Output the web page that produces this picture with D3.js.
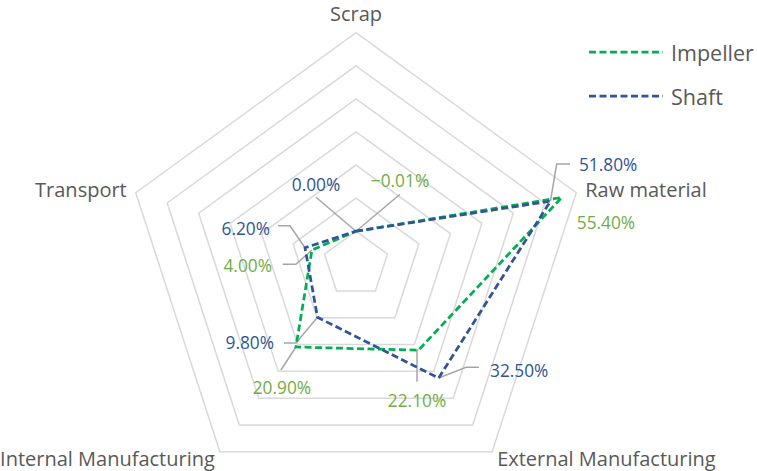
<!DOCTYPE html>
<html>
<head>
<meta charset="utf-8">
<script src="https://cdn.jsdelivr.net/npm/d3@7"></script>
<style>
  body { margin: 0; background: #fff; }
  text { font-family: "Open Sans", sans-serif; }
</style>
</head>
<body>
<div id="chart"></div>
<script>
// Radar data
const axes = ["Scrap", "Raw material", "External Manufacturing", "Internal Manufacturing", "Transport"];
const impeller = [-0.01, 55.4, 22.1, 20.9, 4.0];
const shaft = [0.0, 51.8, 32.5, 9.8, 6.2];
const ringValues = [0, 10, 20, 30, 40, 50, 60];
const seriesNames = ["Impeller", "Shaft"];

const width = 757, height = 471;
const cx = 356, cy = 264.3, R = 231.6;

const svg = d3.select("#chart").append("svg")
  .attr("width", width)
  .attr("height", height);

const r = d3.scaleLinear().domain([-10, 60]).range([0, R]);
const angle = d3.scalePoint().domain(axes).range([0, 2 * Math.PI * 4 / 5]);

function pt(axis, v) {
  const a = angle(axis), rr = r(v);
  return [cx + rr * Math.sin(a), cy - rr * Math.cos(a)];
}

// Grid rings
const ring = d3.line().curve(d3.curveLinearClosed);
svg.append("g").selectAll("path")
  .data(ringValues)
  .enter().append("path")
  .attr("d", v => ring(axes.map(a => pt(a, v))))
  .attr("fill", "none")
  .attr("stroke", "#d9d9d9")
  .attr("stroke-width", 1.5);

// Axis labels
const axisLabel = {
  "Scrap": { dx: 0, dy: -19, anchor: "middle" },
  "Raw material": { dx: 9, dy: -3, anchor: "start" },
  "External Manufacturing": { dx: 5, dy: 7, anchor: "start" },
  "Internal Manufacturing": { dx: -5, dy: 7, anchor: "end" },
  "Transport": { dx: -9, dy: -3, anchor: "end" }
};
svg.append("g").selectAll("text")
  .data(axes)
  .enter().append("text")
  .attr("x", a => pt(a, 60)[0] + axisLabel[a].dx)
  .attr("y", a => pt(a, 60)[1] + axisLabel[a].dy)
  .attr("text-anchor", a => axisLabel[a].anchor)
  .attr("dominant-baseline", "central")
  .style("font-size", "20px")
  .attr("fill", "#595959")
  .text(a => a);

const series = [
  { name: "Impeller", values: impeller, line: "#00b050", label: "#70ad47" },
  { name: "Shaft", values: shaft, line: "#2f5597", label: "#2f5597" }
];

// Label placement relative to each point, with leader elbows
const labelPos = {
  Impeller: [
    { dx: 44, dy: -51, anchor: "middle", leader: [[44, -37]] },
    { dx: 15, dy: 25, anchor: "start", leader: [] },
    { dx: -1.4, dy: 50, anchor: "middle", leader: [[-1.4, 31.5], [-1.4, 0]] },
    { dx: -14, dy: 40, anchor: "middle", leader: [[-15, 23]] },
    { dx: -40, dy: 16, anchor: "end", leader: [[-29.3, 14.3], [-16, 14.3]] }
  ],
  Shaft: [
    { dx: -40, dy: -47, anchor: "middle", leader: [[-40, -34]] },
    { dx: 28.5, dy: -37, anchor: "start", leader: [[19.5, -37], [6.2, -37]] },
    { dx: 51.4, dy: -8, anchor: "start", leader: [[40.4, -10.8], [27.4, -10.8]] },
    { dx: -43.5, dy: 25.7, anchor: "end", leader: [[-33.5, 25.7], [-21.5, 25.7]] },
    { dx: -35, dy: -19.7, anchor: "end", leader: [[-27, -22], [-15, -22]] }
  ]
};

// Leader lines
const leaderG = svg.append("g");
series.forEach(s => {
  axes.forEach((a, i) => {
    const p = pt(a, s.values[i]);
    const lp = labelPos[s.name][i];
    if (!lp.leader.length) return;
    const pts = lp.leader.map(d => [p[0] + d[0], p[1] + d[1]]).concat([p]);
    leaderG.append("path")
      .attr("d", d3.line()(pts))
      .attr("fill", "none")
      .attr("stroke", "#a6a6a6")
      .attr("stroke-width", 1.5);
  });
});

// Series lines
svg.append("g").selectAll("path")
  .data(series)
  .enter().append("path")
  .attr("d", s => ring(axes.map((a, i) => pt(a, s.values[i]))))
  .attr("fill", "none")
  .attr("stroke", s => s.line)
  .attr("stroke-width", 2.75)
  .attr("stroke-dasharray", "7,3.5");

// Data labels
const fmt = v => d3.format(".2f")(v) + "%";
series.forEach(s => {
  svg.append("g").selectAll("text")
    .data(axes)
    .enter().append("text")
    .attr("x", (a, i) => pt(a, s.values[i])[0] + labelPos[s.name][i].dx)
    .attr("y", (a, i) => pt(a, s.values[i])[1] + labelPos[s.name][i].dy)
    .attr("text-anchor", (a, i) => labelPos[s.name][i].anchor)
    .attr("dominant-baseline", "central")
    .style("font-size", "17.3px")
    .attr("fill", s.label)
    .text((a, i) => fmt(s.values[i]));
});

// Legend
const legend = svg.append("g").attr("transform", "translate(589,52)");
const lg = legend.selectAll("g")
  .data(series)
  .enter().append("g")
  .attr("transform", (d, i) => `translate(0,${i * 44})`);
lg.append("line")
  .attr("x1", 0).attr("x2", 74)
  .attr("stroke", d => d.line)
  .attr("stroke-width", 2.75)
  .attr("stroke-dasharray", "7,3.5");
lg.append("text")
  .attr("x", 82)
  .attr("dominant-baseline", "central")
  .style("font-size", "21.5px")
  .attr("fill", "#595959")
  .text(d => d.name);
</script>
</body>
</html>
